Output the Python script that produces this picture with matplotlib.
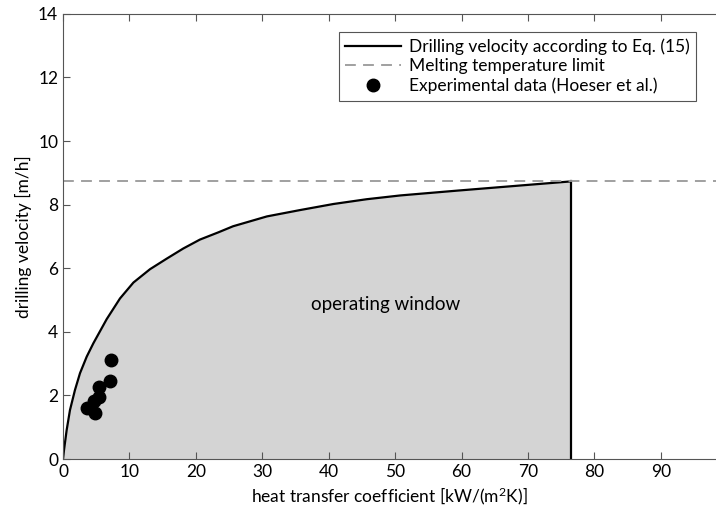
import matplotlib
matplotlib.use("Agg")
import matplotlib.pyplot as plt
import numpy as np

plt.rcParams['font.family'] = ['Lato', 'DejaVu Sans']
plt.rcParams['mathtext.default'] = 'regular'

# curve: heat transfer coefficient vs drilling velocity
h_curve = [0, 0.15, 0.55, 1.05, 1.8, 2.56, 3.57, 4.57, 6.58, 8.58, 10.6,
           13.1, 15.6, 18.1, 20.6, 23.4, 25.6, 30.7, 35.7, 40.7, 45.7,
           50.8, 59.3, 69.3, 76.4]
v_curve = [0, 0.28, 0.91, 1.54, 2.17, 2.70, 3.22, 3.64, 4.40, 5.05, 5.55,
           5.97, 6.30, 6.62, 6.90, 7.13, 7.32, 7.63, 7.83, 8.02, 8.17,
           8.29, 8.44, 8.61, 8.73]

v_melt = 8.73

# experimental data (Hoeser et al.)
h_exp = [7.25, 7.0, 5.4, 5.4, 4.65, 3.6, 4.75]
v_exp = [3.11, 2.44, 2.28, 1.95, 1.82, 1.61, 1.45]

xticks = [0, 10, 20, 30, 40, 50, 60, 70, 80, 90]
yticks = [0, 2, 4, 6, 8, 10, 12, 14]

fig = plt.figure(figsize=(7.16, 5.14), dpi=100)
ax = fig.add_axes([0.088, 0.107, 0.912, 0.866])

h = np.array(h_curve)
v = np.array(v_curve)
ax.fill_between(h, 0, v, color='#d4d4d4', lw=0)
ax.plot(h, v, 'k-', lw=1.6, label='Drilling velocity according to Eq. (15)')
ax.plot([h[-1], h[-1]], [0, v[-1]], 'k-', lw=1.6)
ax.axhline(v_melt, color='#999999', ls=(0, (6, 4)), lw=1.3,
           label='Melting temperature limit')
ax.plot(h_exp, v_exp, 'ko', ms=9, ls='none',
        label='Experimental data (Hoeser et al.)')

ax.text(48.5, 4.85, 'operating window', fontsize=13.5, ha='center', va='center')

ax.set_xlim(0, 98.3)
ax.set_ylim(0, 14)
ax.set_xticks(xticks)
ax.set_yticks(yticks)
ax.tick_params(direction='in', top=True, right=False, length=5,
               labelsize=12.5, color='#555555')
ax.spines['right'].set_visible(False)
for s in ['left', 'bottom', 'top']:
    ax.spines[s].set_color('#555555')

ax.set_xlabel('heat transfer coefficient [kW/(m$^2$K)]', fontsize=12.5)
ax.set_ylabel('drilling velocity [m/h]', fontsize=12.5)

leg = ax.legend(loc='upper right', bbox_to_anchor=(0.983, 0.978), fontsize=12.5,
                fancybox=False, framealpha=1, edgecolor='#555555',
                handlelength=3.2, handletextpad=0.5, borderpad=0.35,
                labelspacing=0.2)
leg.get_frame().set_linewidth(0.8)

fig.savefig('out.png', dpi=100)
